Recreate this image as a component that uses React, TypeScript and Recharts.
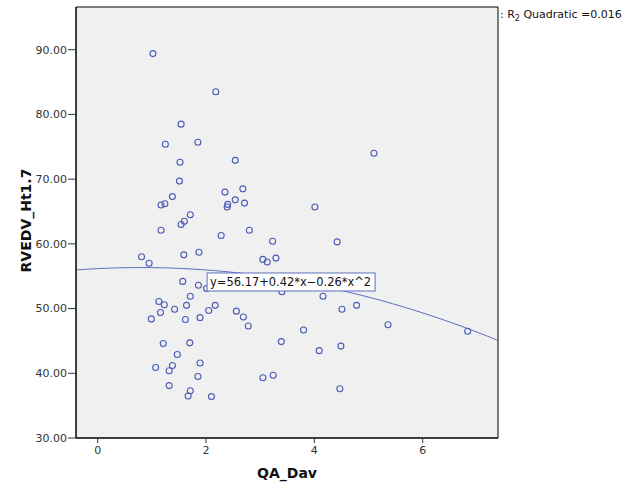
import {
  ComposedChart,
  Scatter,
  Line,
  XAxis,
  YAxis,
  CartesianGrid,
  ReferenceArea,
} from "recharts";

// QA_Dav values
const qaDav = [
  1.02, 2.18, 1.54, 1.25, 1.85, 1.52, 2.54, 1.51, 1.38, 1.17, 1.24, 1.71, 1.6, 1.54, 1.17, 2.35, 2.68, 2.54, 2.71,
  2.4, 2.39, 2.8, 2.28, 3.23, 5.1, 4.01, 4.42, 0.81, 0.95, 1.59, 1.87, 3.05, 3.13, 3.29, 1.57, 1.86, 2.01, 3.4,
  4.16, 1.71, 1.13, 1.23, 1.16, 1.42, 1.64, 2.17, 2.05, 0.99, 1.62, 1.89, 2.56, 2.69, 2.78, 3.8, 4.51, 4.78, 5.36,
  6.83, 3.39, 4.09, 4.49, 4.47, 1.21, 1.7, 1.47, 1.07, 1.38, 1.32, 1.89, 1.85, 3.05, 3.24, 1.32, 1.71, 1.67, 2.1,
];

// RVEDV_Ht1.7 values
const rvedv = [
  89.4, 83.5, 78.5, 75.4, 75.7, 72.6, 72.9, 69.7, 67.3, 66.0, 66.2, 64.5, 63.5, 63.0, 62.1, 68.0, 68.5, 66.8, 66.3,
  66.1, 65.7, 62.1, 61.3, 60.4, 74.0, 65.7, 60.3, 58.0, 57.0, 58.3, 58.7, 57.6, 57.2, 57.8, 54.2, 53.6, 53.1, 52.6,
  51.9, 51.9, 51.1, 50.6, 49.4, 49.9, 50.5, 50.5, 49.7, 48.4, 48.3, 48.6, 49.6, 48.7, 47.3, 46.7, 49.9, 50.5, 47.5,
  46.5, 44.9, 43.5, 44.2, 37.6, 44.6, 44.7, 42.9, 40.9, 41.2, 40.4, 41.6, 39.5, 39.3, 39.7, 38.1, 37.3, 36.5, 36.4,
];

// quadratic fit shown on the chart
const fitCoef = [56.17, 0.42, -0.26];
const fitLabel = "y=56.17+0.42*x\u22120.26*x^2";
const rSquare = "0.016";
// where the equation box sits (its top-left corner, in data units)
const labelAnchor = [{ x: 2.02, y: 55.5 }];

const xTicks = [0, 2, 4, 6];
const yTicks = [30, 40, 50, 60, 70, 80, 90];
const xDomain = [-0.4, 7.39];
const yDomain = [30, 96.6];

const points = qaDav.map((x, i) => ({ x, y: rvedv[i] }));

const fitLine: { x: number; y: number }[] = [];
for (let i = 0; i <= 40; i++) {
  const x = xDomain[0] + ((xDomain[1] - xDomain[0]) * i) / 40;
  fitLine.push({ x, y: fitCoef[0] + fitCoef[1] * x + fitCoef[2] * x * x });
}

const FONT = "'DejaVu Sans', sans-serif";
const BLUE = "#4a5cb6";

const OpenCircle = (p: any) => (
  <circle cx={p.cx} cy={p.cy} r={3} fill="none" stroke={BLUE} strokeWidth={1.1} />
);

const EquationBox = (p: any) => (
  <g>
    <rect x={p.cx} y={p.cy} width={168} height={18} fill="#fff" stroke="#5a6fc0" strokeWidth={1} />
    <text
      x={p.cx + 3}
      y={p.cy + 13.5}
      fontFamily={FONT}
      fontSize={11.5}
      textLength={161}
      lengthAdjust="spacingAndGlyphs"
      fill="#111"
    >
      {fitLabel}
    </text>
  </g>
);

export default function App() {
  return (
    <div style={{ position: "absolute", left: 0, top: 0, width: 626, height: 487, background: "#fff" }}>
      <ComposedChart width={626} height={487} margin={{ top: 7, right: 128, bottom: 0, left: 0 }}>
        <CartesianGrid horizontal={false} vertical={false} fill="#f0f0f0" />
        <XAxis
          type="number"
          dataKey="x"
          domain={xDomain}
          ticks={xTicks}
          allowDataOverflow
          height={49}
          stroke="#000"
          tickSize={5}
          tickMargin={3}
          tick={{ fontSize: 11, fontFamily: FONT, fill: "#333" }}
          tickLine={{ stroke: "#333" }}
          label={{
            content: (lp: any) => (
              <text
                x={lp.viewBox.x + lp.viewBox.width / 2}
                y={lp.viewBox.y + 40}
                textAnchor="middle"
                fontFamily={FONT}
                fontWeight="bold"
                fontSize={14}
                fill="#111"
              >
                QA_Dav
              </text>
            ),
          }}
        />
        <YAxis
          type="number"
          dataKey="y"
          domain={yDomain}
          ticks={yTicks}
          allowDataOverflow
          width={76}
          stroke="#000"
          tickSize={8}
          tickMargin={1}
          tickFormatter={(v: number) => v.toFixed(2)}
          tick={{ fontSize: 11, fontFamily: FONT, fill: "#333" }}
          tickLine={{ stroke: "#333" }}
          label={{
            content: (lp: any) => (
              <text
                transform={`translate(31, ${lp.viewBox.y + lp.viewBox.height / 2 - 2}) rotate(-90)`}
                textAnchor="middle"
                fontFamily={FONT}
                fontWeight="bold"
                fontSize={14}
                fill="#111"
              >
                RVEDV_Ht1.7
              </text>
            ),
          }}
        />
        <ReferenceArea
          x1={xDomain[0]}
          x2={xDomain[1]}
          y1={yDomain[0]}
          y2={yDomain[1]}
          fill="none"
          stroke="#000"
          strokeWidth={1}
        />
        <Line
          data={fitLine}
          dataKey="y"
          type="monotone"
          dot={false}
          stroke="#5a6fc0"
          strokeWidth={1}
          isAnimationActive={false}
        />
        <Scatter data={points} dataKey="y" shape={OpenCircle} isAnimationActive={false} />
        <Scatter data={labelAnchor} dataKey="y" shape={EquationBox} isAnimationActive={false} />
        <text x={500} y={18} fontFamily={FONT} fontSize={11} fill="#111">
          : R
          <tspan fontSize={8} dy={3}>2</tspan>
          <tspan dy={-3}> Quadratic =</tspan>
          {rSquare}
        </text>
      </ComposedChart>
    </div>
  );
}
